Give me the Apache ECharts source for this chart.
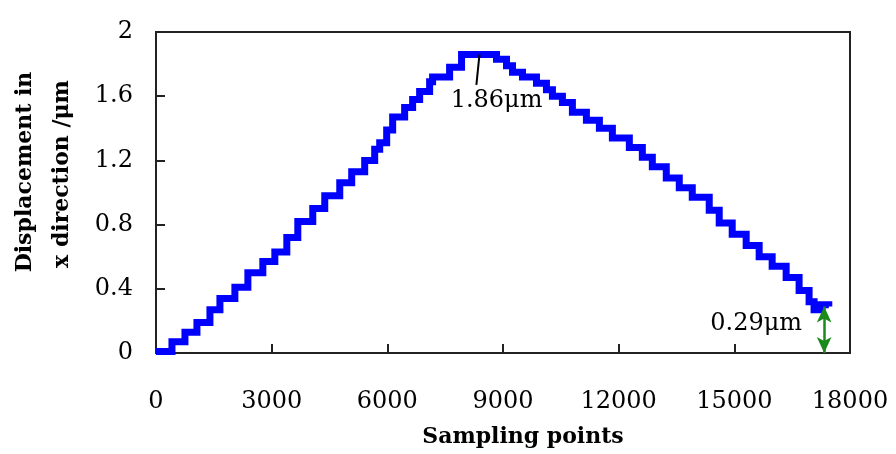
<!DOCTYPE html>
<html>
<head>
<meta charset="utf-8">
<script src="https://cdn.jsdelivr.net/npm/echarts@6/dist/echarts.min.js"></script>
<style>
html,body{margin:0;padding:0;background:#fff;}
#chart{width:896px;height:454px;}
</style>
</head>
<body>
<div id="chart"></div>
<script>
const samplePoints = [0,414,751,1062,1399,1658,2046,2383,2771,3082,3393,3678,4066,4377,4766,5076,5413,5672,5802,5983,6138,6449,6656,6838,7097,7174,7615,7925,8832,9091,9246,9505,9868,10127,10282,10541,10800,11163,11500,11837,12277,12614,12873,13235,13572,13909,14349,14608,14945,15307,15644,15981,16344,16680,16939,17068,17250,17450];
const displacementX = [0.01,0.07,0.13,0.19,0.27,0.34,0.41,0.50,0.57,0.63,0.72,0.82,0.90,0.98,1.06,1.13,1.20,1.27,1.31,1.39,1.47,1.53,1.58,1.63,1.69,1.72,1.78,1.86,1.83,1.79,1.75,1.72,1.68,1.64,1.60,1.56,1.50,1.45,1.40,1.34,1.28,1.22,1.16,1.09,1.03,0.97,0.89,0.81,0.74,0.67,0.60,0.54,0.47,0.39,0.32,0.27,0.30,0.29];
const xTicks = [0,3000,6000,9000,12000,15000,18000];
const yTicks = [0,0.4,0.8,1.2,1.6,2];
const peakValue = 1.86;
const peakAt = 8390;
const endValue = 0.29;
const endAt = 17330;

const serif = '"DejaVu Serif", "Liberation Serif", serif';
const chart = echarts.init(document.getElementById('chart'));
const data = samplePoints.map((x, i) => [x, displacementX[i]]);

chart.setOption({
  animation: false,
  backgroundColor: '#fff',
  grid: {left: 156, right: 46, top: 32, bottom: 101, show: true, borderColor: '#222', borderWidth: 2, backgroundColor: 'transparent'},
  xAxis: {
    type: 'value', min: xTicks[0], max: xTicks[xTicks.length-1], interval: 3000,
    axisLine: {show: true, lineStyle: {color: '#222', width: 2}},
    axisTick: {show: true, inside: true, length: 9, lineStyle: {color: '#222', width: 2}},
    axisLabel: {show: true, margin: 37, color: '#000', fontFamily: serif, fontSize: 24,
      formatter: v => xTicks.includes(v) ? String(v) : ''},
    splitLine: {show: false}
  },
  yAxis: {
    type: 'value', min: yTicks[0], max: yTicks[yTicks.length-1], interval: 0.4,
    axisLine: {show: true, lineStyle: {color: '#222', width: 2}},
    axisTick: {show: true, inside: true, length: 9, lineStyle: {color: '#222', width: 2}},
    axisLabel: {show: true, margin: 23, color: '#000', fontFamily: serif, fontSize: 24,
      formatter: v => String(Math.round(v * 10) / 10)},
    splitLine: {show: false}
  },
  series: [{
    type: 'line',
    data: data,
    step: 'end',
    showSymbol: false,
    symbol: 'none',
    lineStyle: {color: '#0000ff', width: 7, join: 'miter'},
    clip: false,
    z: 2,
    markLine: {
      silent: true,
      animation: false,
      symbol: ['none', 'none'],
      label: {show: false},
      lineStyle: {type: 'solid'},
      data: [
        [{coord: [peakAt, peakValue], lineStyle: {color: '#000', width: 2, type: 'solid'}},
         {coord: [peakAt - 80, 1.67]}],
        [{coord: [endAt, endValue], symbol: 'arrow', symbolSize: [11, 16], lineStyle: {color: '#1a8a1a', width: 2.5, type: 'solid'}, itemStyle: {color: '#1a8a1a'}},
         {coord: [endAt, 0], symbol: 'arrow', symbolSize: [11, 16]}]
      ]
    }
  }]
});

function px(pt) { return chart.convertToPixel({gridIndex: 0}, pt); }
const p186 = px([8832, 1.57]);
const p029 = px([15567, 0.18]);
chart.setOption({
  graphic: [
    {type: 'text', x: 25, y: 172, rotation: Math.PI / 2,
      style: {text: 'Displacement in', fill: '#000', font: 'bold 22px ' + serif, textAlign: 'center', textVerticalAlign: 'middle'}},
    {type: 'text', x: 62, y: 174, rotation: Math.PI / 2,
      style: {text: 'x direction /μm', fill: '#000', font: 'bold 22px ' + serif, textAlign: 'center', textVerticalAlign: 'middle'}},
    {type: 'text', x: 523, y: 437,
      style: {text: 'Sampling points', fill: '#000', font: 'bold 22px ' + serif, textAlign: 'center', textVerticalAlign: 'middle'}},
    {type: 'text', x: p186[0], y: p186[1],
      style: {text: peakValue.toFixed(2) + 'μm', fill: '#000', font: '24px ' + serif, textAlign: 'center', textVerticalAlign: 'middle'}},
    {type: 'text', x: p029[0], y: p029[1],
      style: {text: endValue.toFixed(2) + 'μm', fill: '#000', font: '24px ' + serif, textAlign: 'center', textVerticalAlign: 'middle'}}
  ]
});
</script>
</body>
</html>
